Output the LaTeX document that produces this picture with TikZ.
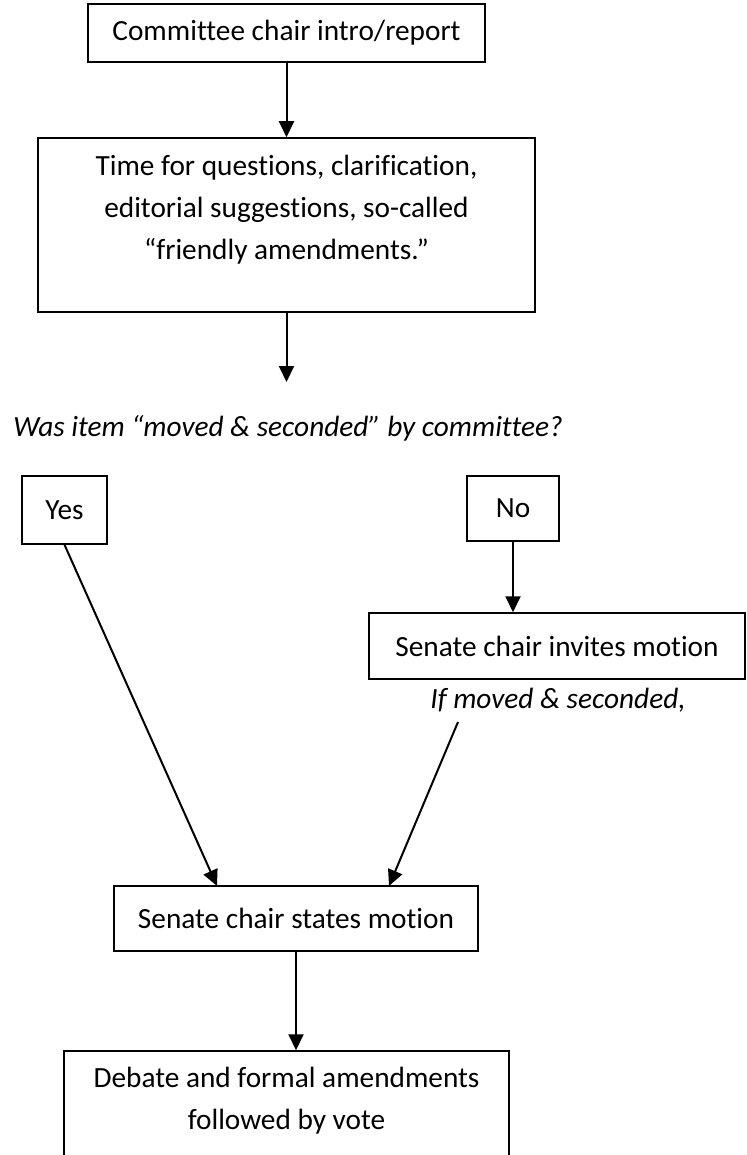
\documentclass[tikz,border=0pt]{standalone}
\usepackage{fontspec}
\setmainfont{Carlito}[Ligatures=NoCommon]
\usetikzlibrary{arrows.meta,positioning,calc}

\begin{document}
\begin{tikzpicture}[>={Triangle[length=16pt,width=15pt]},x=1pt,y=-1pt,
  font=\fontsize{29.3}{42}\selectfont,
  box/.style={draw,line width=1.5pt,inner sep=0pt},
  flow/.style={->,line width=2pt},
  note/.style={font=\fontsize{29.3}{42}\selectfont\itshape}]
\useasboundingbox (0,0) rectangle (746,1155);
\node[box,minimum width=397pt,minimum height=58pt] (intro) at (286.5,33) {Committee chair intro/report};
\node[box,minimum width=497pt,minimum height=174pt] (talk) at (286.5,225) {};
\node[align=center] (talktxt) at (286.5,210) {Time for questions, clarification,\\editorial suggestions, so-called\\“friendly amendments.”};
\coordinate (askin) at (286.5,382);
\node[note] (ask) at (288,428) {Was item “moved \& seconded” by committee?};
\node[box,minimum width=85pt,minimum height=68pt] (yes) at (64.5,510) {Yes};
\node[box,minimum width=92pt,minimum height=65pt] (no) at (513,508.5) {No};
\node[box,minimum width=376pt,minimum height=66pt] (invites) at (557,646) {Senate chair invites motion};
\node[note] (ifmoved) at (558,700) {If moved \& seconded,};
\coordinate (movedtail) at (458,722);
\node[box,minimum width=364pt,minimum height=65pt] (states) at (296,918.5) {Senate chair states motion};
\coordinate (yestip) at (217,886);
\coordinate (movedtip) at (389,886);
\node[box,minimum width=445pt,minimum height=139pt] (debate) at (286.5,1120.5) {};
\node[align=center] (debatetxt) at (286.5,1101) {Debate and formal amendments\\followed by vote};
% connectors
\draw[flow] (intro) -- (talk);
\draw[flow] (talk) -- (askin);
\draw[flow] (no.south) -- (no.south |- invites.north);
\draw[flow] (yes.south) -- (yestip);
\draw[flow] (movedtail) -- (movedtip);
\draw[flow] (states.south) -- (states.south |- debate.north);
\end{tikzpicture}
\end{document}
